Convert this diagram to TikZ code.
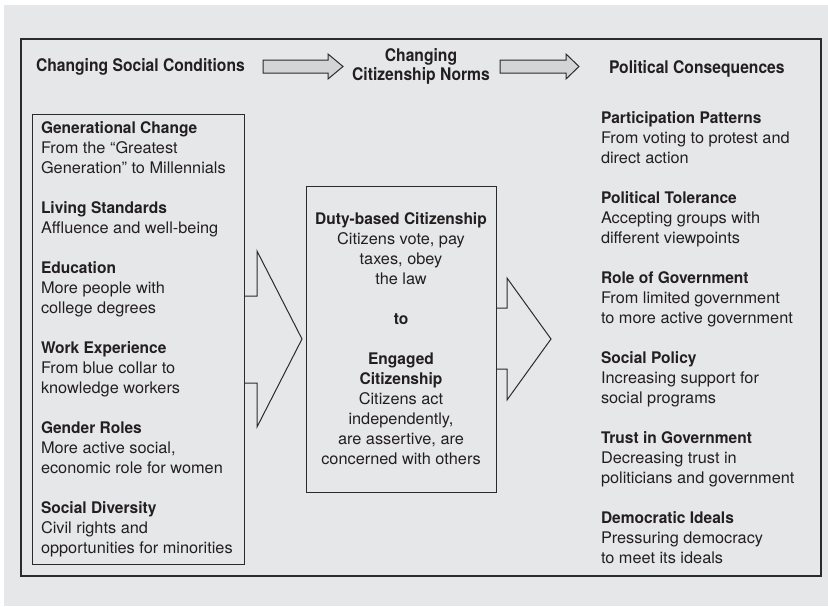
\documentclass[tikz,border=0pt]{standalone}
\usepackage{fontspec}
\setmainfont{TeX Gyre Heros}[FakeStretch=1.02, BoldFeatures={FakeStretch=0.97}]
\newfontfamily\hdrfont{TeX Gyre Heros}[BoldFeatures={FakeStretch=0.9}]
\usetikzlibrary{calc}
\definecolor{bg}{HTML}{E6E7E8}
\definecolor{ink}{HTML}{231F20}
\definecolor{arrfill}{HTML}{D3D4D5}
\definecolor{linec}{HTML}{2B2B2B}
\begin{document}
\begin{tikzpicture}[x=1pt,y=-1pt,
  every node/.style={inner sep=0pt, outer sep=0pt, text=ink},
  body/.style={font=\fontsize{16pt}{20pt}\selectfont, anchor=base west},
  bodyc/.style={font=\fontsize{16pt}{20pt}\selectfont, anchor=base},
  head/.style={font=\fontsize{16pt}{20pt}\selectfont\bfseries, anchor=base west},
  headc/.style={font=\fontsize{16pt}{20pt}\selectfont\bfseries, anchor=base},
  title/.style={font=\hdrfont\fontsize{17.4pt}{19pt}\selectfont\bfseries},
  frame/.style={draw=linec, line width=1.3pt},
  box/.style={draw=linec, line width=1pt},
  bigarrow/.style={draw=linec, line width=1pt, line join=miter},
  smallarrow/.style={draw=linec, fill=arrfill, line width=1pt, line join=miter}]
\useasboundingbox (0,0) rectangle (828,606);
\fill[bg] (4,5) rectangle (828,606);

% outer frame and boxes
\node[frame, minimum width=800pt, minimum height=537pt] (outer) at (421,307.5) {};
\node[box, minimum width=212pt, minimum height=450pt] (cond) at (138,339) {};
\node[box, minimum width=190pt, minimum height=306pt] (norms) at (401,339) {};

% titles
\node[title, anchor=base west] (hsoc) at (36,71) {Changing Social Conditions};
\node[title, anchor=base] (hnorm1) at (421,61) {Changing};
\node[title, anchor=base] (hnorm2) at (421,80) {Citizenship Norms};
\node[title, anchor=base west] (hcons) at (609,73) {Political Consequences};

% small arrows between titles
\coordinate (s1) at (263,66.5);
\coordinate (s2) at (500,66.5);
\draw[smallarrow] ($(s1)+(0,-6.5)$) -- ++(65,0) -- ++(0,-6) -- ++(15,12.5) -- ++(-15,12.5) -- ++(0,-6) -- ++(-65,0) -- cycle;
\draw[smallarrow] ($(s2)+(0,-6.5)$) -- ++(66,0) -- ++(0,-6) -- ++(13,12.5) -- ++(-13,12.5) -- ++(0,-6) -- ++(-66,0) -- cycle;

% big arrows
\draw[bigarrow] ($(cond.east)+(0,-43)$) -- ++(13,0) -- ++(0,-45) -- ++(45,88) -- ++(-45,88) -- ++(0,-44) -- ++(-13,0);
\draw[bigarrow] ($(norms.east)+(0,-31)$) -- ++(11,0) -- ++(0,-30) -- ++(44,61) -- ++(-44,61) -- ++(0,-31) -- ++(-11,0);

% left column
\node[head] (c1h) at (41,133) {Generational Change};
\node[body] (c1a) at (41,153) {From the “Greatest};
\node[body] (c1b) at (41,173) {Generation” to Millennials};
\node[head] (c2h) at (41,213) {Living Standards};
\node[body] (c2a) at (41,233) {Affluence and well-being};
\node[head] (c3h) at (41,273) {Education};
\node[body] (c3a) at (41,293) {More people with};
\node[body] (c3b) at (41,313) {college degrees};
\node[head] (c4h) at (41,353) {Work Experience};
\node[body] (c4a) at (41,373) {From blue collar to};
\node[body] (c4b) at (41,393) {knowledge workers};
\node[head] (c5h) at (41,433) {Gender Roles};
\node[body] (c5a) at (41,453) {More active social,};
\node[body] (c5b) at (41,473) {economic role for women};
\node[head] (c6h) at (41,513) {Social Diversity};
\node[body] (c6a) at (41,533) {Civil rights and};
\node[body] (c6b) at (41,553) {opportunities for minorities};

% middle box
\node[headc] (n1h) at (401,224) {Duty-based Citizenship};
\node[bodyc] (n1a) at (401,244) {Citizens vote, pay};
\node[bodyc] (n1b) at (401,264) {taxes, obey};
\node[bodyc] (n1c) at (401,284) {the law};
\node[headc] (nto) at (401,324) {to};
\node[headc] (n2h) at (401,364) {Engaged};
\node[headc] (n2i) at (401,384) {Citizenship};
\node[bodyc] (n2a) at (401,404) {Citizens act};
\node[bodyc] (n2b) at (401,424) {independently,};
\node[bodyc] (n2c) at (401,444) {are assertive, are};
\node[bodyc] (n2d) at (401,464) {concerned with others};

% right column
\node[head] (p1h) at (601,123) {Participation Patterns};
\node[body] (p1a) at (601,143) {From voting to protest and};
\node[body] (p1b) at (601,163) {direct action};
\node[head] (p2h) at (601,203) {Political Tolerance};
\node[body] (p2a) at (601,223) {Accepting groups with};
\node[body] (p2b) at (601,243) {different viewpoints};
\node[head] (p3h) at (601,283) {Role of Government};
\node[body] (p3a) at (601,303) {From limited government};
\node[body] (p3b) at (601,323) {to more active government};
\node[head] (p4h) at (601,363) {Social Policy};
\node[body] (p4a) at (601,383) {Increasing support for};
\node[body] (p4b) at (601,403) {social programs};
\node[head] (p5h) at (601,443) {Trust in Government};
\node[body] (p5a) at (601,463) {Decreasing trust in};
\node[body] (p5b) at (601,483) {politicians and government};
\node[head] (p6h) at (601,523) {Democratic Ideals};
\node[body] (p6a) at (601,543) {Pressuring democracy};
\node[body] (p6b) at (601,563) {to meet its ideals};
\end{tikzpicture}
\end{document}
